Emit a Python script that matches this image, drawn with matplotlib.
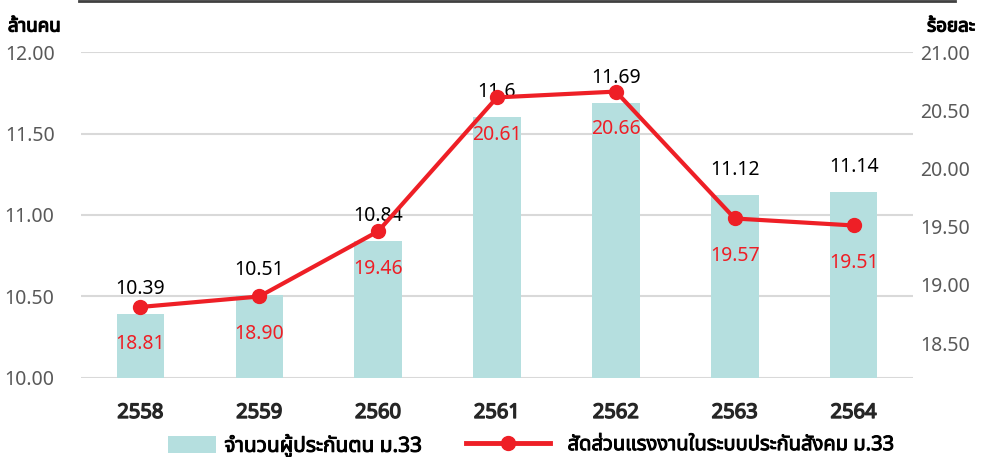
import matplotlib
matplotlib.use("Agg")
import matplotlib.pyplot as plt
from matplotlib import font_manager
import matplotlib.patheffects as pe
from matplotlib.lines import Line2D
from matplotlib.patches import Patch
import numpy as np


def find_thai_font():
    # look for an installed family that actually has Thai glyphs
    from fontTools.ttLib import TTFont
    found = []
    for f in font_manager.fontManager.ttflist:
        try:
            tt = TTFont(f.fname, fontNumber=0, lazy=True)
            cmap = tt.getBestCmap() or {}
            if 0x0E01 in cmap:
                found.append(f.name)
        except Exception:
            pass
    for pref in ["Noto Sans Thai", "Noto Sans Thai Looped", "Loma", "Garuda", "Tlwg Typo"]:
        if pref in found:
            return pref
    return found[0] if found else None


thai = find_thai_font()
families = ([thai] if thai else []) + ["DejaVu Sans"]
plt.rcParams['font.family'] = families

years = ["2558", "2559", "2560", "2561", "2562", "2563", "2564"]
insured = [10.39, 10.51, 10.84, 11.6, 11.69, 11.12, 11.14]
share = [18.81, 18.90, 19.46, 20.61, 20.66, 19.57, 19.51]
insured_labels = ["10.39", "10.51", "10.84", "11.6", "11.69", "11.12", "11.14"]
share_labels = ["18.81", "18.90", "19.46", "20.61", "20.66", "19.57", "19.51"]

bar_c = '#b5dfdf'
red = '#ee1f26'
grid_c = '#d9d9d9'
tick_c = '#595959'


def boldish(color, w=0.9):
    return [pe.withStroke(linewidth=w, foreground=color)]


fig = plt.figure(figsize=(9.89, 4.57), dpi=100)
ax = fig.add_axes([0.0819, 0.1729, 0.8413, 0.7133])
ax2 = ax.twinx()

x = np.arange(len(years))
ax.bar(x, insured, width=0.4, color=bar_c, zorder=2)
ax.set_ylim(10, 12)
ax.set_xlim(-0.5, len(years) - 0.5)
ax.set_yticks([10.0, 10.5, 11.0, 11.5, 12.0])
ax.set_yticklabels(["%.2f" % v for v in [10.0, 10.5, 11.0, 11.5, 12.0]])
ax.yaxis.grid(True, color=grid_c, linewidth=1.5, zorder=0)
ax.set_axisbelow(True)

ax2.plot(x, share, color=red, linewidth=3, marker='o', markersize=10, zorder=5)
ax2.set_ylim(18.2, 21.0)
ax2.set_yticks([18.5, 19.0, 19.5, 20.0, 20.5, 21.0])
ax2.set_yticklabels(["%.2f" % v for v in [18.5, 19.0, 19.5, 20.0, 20.5, 21.0]])

for a in (ax, ax2):
    for s in a.spines.values():
        s.set_visible(False)
    a.tick_params(axis='y', length=0, labelsize=14, labelcolor=tick_c)
ax.tick_params(axis='y', pad=19)
ax2.tick_params(axis='y', pad=5)

ax.set_xticks(x)
ax.set_xticklabels(years, fontsize=14.5, color='#262626')
for t in ax.get_xticklabels():
    t.set_path_effects(boldish('#262626', 1.0))
ax.tick_params(axis='x', length=0, pad=18)

# value labels: bar values above the bar tops, shares below the markers
for i in range(len(years)):
    ax.annotate(insured_labels[i], (x[i], insured[i]), xytext=(0, 18),
                textcoords='offset points', ha='center', va='center',
                fontsize=14, color='black', zorder=6)
    ax2.annotate(share_labels[i], (x[i], share[i]), xytext=(0, -27),
                 textcoords='offset points', ha='center', va='center',
                 fontsize=14, color=red, zorder=6)

# axis unit titles
fig.text(0.008, 0.942, "ล้านคน", fontsize=13.5, ha='left', va='center',
         path_effects=boldish('black', 0.9))
fig.text(0.986, 0.942, "ร้อยละ", fontsize=13.5, ha='right', va='center',
         path_effects=boldish('black', 0.9))

# dark rule at the very top
fig.add_artist(Line2D([0.08, 0.966], [0.998, 0.998], color='#404040', linewidth=2,
                      transform=fig.transFigure))

# two separate legends so each handle can have its own length
leg1 = fig.legend([Patch(facecolor=bar_c, edgecolor='none')], ["จำนวนผู้ประกันตน ม.33"],
                  loc='center left', bbox_to_anchor=(0.170, 0.026), frameon=False,
                  fontsize=15, handlelength=2.3, handleheight=0.9, handletextpad=0.4,
                  borderpad=0, borderaxespad=0)
leg2 = fig.legend([Line2D([0], [0], color=red, linewidth=3.5, marker='o', markersize=10)],
                  ["สัดส่วนแรงงานในระบบประกันสังคม ม.33"],
                  loc='center left', bbox_to_anchor=(0.471, 0.026), frameon=False,
                  fontsize=14.5, handlelength=4.2, handletextpad=0.85,
                  borderpad=0, borderaxespad=0)
for leg in (leg1, leg2):
    for t in leg.get_texts():
        t.set_path_effects(boldish('black', 0.7))

fig.savefig("out.png", dpi=100)
